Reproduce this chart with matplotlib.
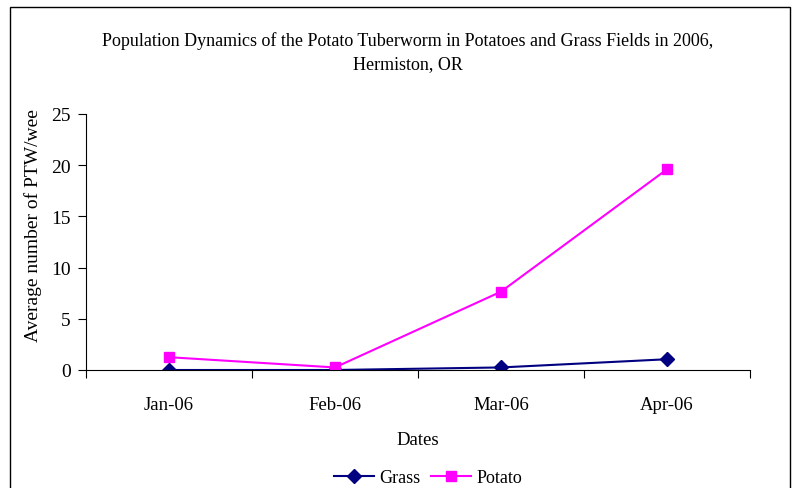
import matplotlib.pyplot as plt
from matplotlib.patches import Rectangle

plt.rcParams['font.family'] = ['Liberation Serif', 'DejaVu Serif']

dates = ["Jan-06", "Feb-06", "Mar-06", "Apr-06"]
grass = [0.0, 0.0, 0.25, 1.05]
potato = [1.25, 0.25, 7.65, 19.6]

fig = plt.figure(figsize=(7.92, 4.89), dpi=100)
fig.patches.append(Rectangle((10 / 792, -0.1), 780 / 792, 1.1 - 8 / 489,
                             transform=fig.transFigure, fill=False,
                             edgecolor='black', linewidth=1.0))

ax = fig.add_axes([86 / 792, 118 / 489, 664 / 792, 256 / 489])
x = list(range(len(dates)))
ax.plot(x, grass, color='#000080', marker='D', markersize=7, linewidth=1.5,
        label='Grass')
ax.plot(x, potato, color='#FF00FF', marker='s', markersize=7, linewidth=1.5,
        label='Potato')

ax.set_xlim(-0.5, 3.5)
ax.set_ylim(0, 25)
ax.set_yticks([0, 5, 10, 15, 20, 25])
ax.set_xticks([-0.5, 0.5, 1.5, 2.5, 3.5])
ax.set_xticklabels([])
ax.set_xticks(x, minor=True)
ax.set_xticklabels(dates, minor=True)
ax.tick_params(axis='x', which='minor', length=0, labelsize=13.5, pad=19)
ax.tick_params(axis='x', which='major', length=6, direction='out')
ax.tick_params(axis='y', length=6, direction='out', labelsize=14, pad=5)
ax.spines['top'].set_visible(False)
ax.spines['right'].set_visible(False)

ax.set_xlabel("Dates", fontsize=13.5, labelpad=13)
ax.set_ylabel("Average number of PTW/wee", fontsize=14)
ax.yaxis.set_label_coords(-0.066, 0.57)

fig.text(408 / 792, 1 - 41 / 489,
         "Population Dynamics of the Potato Tuberworm in Potatoes and Grass Fields in 2006,",
         ha='center', va='center', fontsize=13)
fig.text(408 / 792, 1 - 65 / 489, "Hermiston, OR",
         ha='center', va='center', fontsize=13)

fig.legend(loc='center', bbox_to_anchor=(428 / 792, 1 - 479 / 489), ncol=2,
           frameon=False, fontsize=13, handlelength=2.2, columnspacing=0.6,
           handletextpad=0.3)

plt.savefig('out.png', dpi=100)
